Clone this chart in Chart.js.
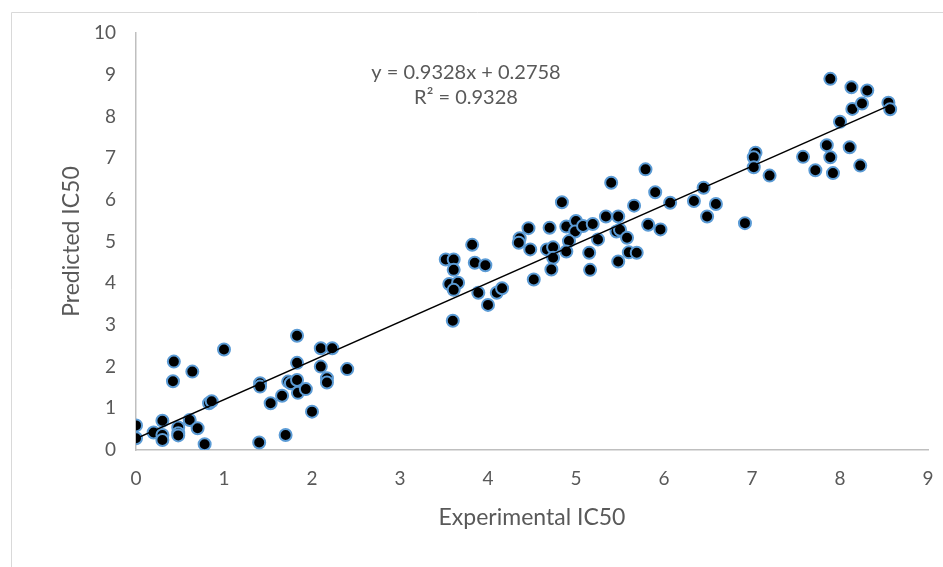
<!DOCTYPE html>
<html>
<head>
<meta charset="utf-8">
<script src="https://cdn.jsdelivr.net/npm/chart.js@4.4.1/dist/chart.umd.min.js"></script>
<style>
  html, body { margin: 0; padding: 0; background: #fff; overflow: hidden; }
  #wrap { width: 943px; height: 567px; position: relative; }
  canvas { display: block; }
</style>
</head>
<body>
<div id="wrap"><canvas id="myChart"></canvas></div>
<script>
// experimental vs predicted IC50
const expX = [
  0.00, 0.00, 0.20, 0.30, 0.30, 0.30, 0.48, 0.48, 0.48, 0.61, 0.70, 0.78,
  0.43, 0.42, 0.64, 1.00, 0.83, 0.86, 1.41, 1.41, 1.40, 1.53, 1.66, 1.70,
  1.83, 1.83, 1.73, 1.76, 1.83, 1.84, 1.93, 2.00, 2.10, 2.23, 2.10, 2.17,
  2.17, 2.40,
  3.52, 3.61, 3.61, 3.56, 3.66, 3.61, 3.60, 3.82, 3.85, 3.97, 3.89, 4.00,
  4.10, 4.16, 4.36, 4.35, 4.46, 4.48, 4.52, 4.70, 4.67, 4.74, 4.74, 4.72,
  4.84, 4.89, 5.00, 4.99, 4.92, 4.89, 5.08, 5.19, 5.15, 5.16, 5.25, 5.34,
  5.40, 5.48, 5.46, 5.50, 5.58, 5.60, 5.48, 5.69, 5.66, 5.79, 5.90, 5.82,
  5.96, 6.07, 6.34,
  6.45, 6.59, 6.49, 6.92, 7.04, 7.02, 7.02, 7.20, 7.58, 7.72, 7.85, 7.89,
  7.92, 7.89, 8.00, 8.13, 8.14, 8.25, 8.31, 8.11, 8.23, 8.55, 8.57
];
const predY = [
  0.59, 0.28, 0.42, 0.70, 0.36, 0.24, 0.54, 0.40, 0.35, 0.72, 0.52, 0.14,
  2.12, 1.65, 1.88, 2.41, 1.12, 1.17, 1.60, 1.52, 0.18, 1.12, 1.30, 0.36,
  2.74, 2.09, 1.64, 1.60, 1.68, 1.37, 1.46, 0.92, 2.44, 2.44, 2.00, 1.72,
  1.62, 1.94,
  4.57, 4.57, 4.32, 3.98, 4.01, 3.84, 3.10, 4.92, 4.49, 4.43, 3.77, 3.48,
  3.77, 3.88, 5.08, 4.97, 5.32, 4.81, 4.09, 5.33, 4.81, 4.86, 4.61, 4.33,
  5.94, 5.36, 5.49, 5.24, 5.01, 4.76, 5.37, 5.42, 4.73, 4.32, 5.05, 5.60,
  6.41, 5.60, 5.24, 5.28, 5.09, 4.74, 4.52, 4.73, 5.86, 6.73, 6.18, 5.40,
  5.29, 5.93, 5.97,
  6.29, 5.90, 5.60, 5.44, 7.13, 7.02, 6.78, 6.58, 7.03, 6.71, 7.31, 7.02,
  6.64, 8.90, 7.87, 8.70, 8.18, 8.31, 8.62, 7.26, 6.82, 8.33, 8.17
];
const xTicks = [0, 1, 2, 3, 4, 5, 6, 7, 8, 9];
const yTicks = [0, 1, 2, 3, 4, 5, 6, 7, 8, 9, 10];
const slope = 0.9328;
const intercept = 0.2758;
const trendX = [0, 8.57];

const txt = '#595959';
const fnt = 'Lato, "Open Sans", sans-serif';

const points = expX.map((x, i) => ({ x: x, y: predY[i] }));
const trend = trendX.map(x => ({ x: x, y: slope * x + intercept }));

const extras = {
  id: 'extras',
  beforeDraw(chart) {
    const c = chart.ctx;
    c.save();
    c.strokeStyle = '#d9d9d9';
    c.lineWidth = 1;
    c.beginPath();
    c.moveTo(11.5, 567);
    c.lineTo(11.5, 12.5);
    c.lineTo(943, 12.5);
    c.stroke();
    c.restore();
  },
  afterDraw(chart) {
    const c = chart.ctx;
    c.save();
    c.fillStyle = txt;
    c.font = '20px ' + fnt;
    c.textAlign = 'center';
    c.textBaseline = 'middle';
    c.fillText('y = ' + slope + 'x + ' + intercept, 466, 73);
    c.fillText('R² = ' + slope, 466, 98);
    c.restore();
  }
};

new Chart(document.getElementById('myChart'), {
  type: 'scatter',
  data: {
    datasets: [{
      label: 'trend',
      type: 'line',
      data: trend,
      borderColor: '#000',
      borderWidth: 1.5,
      pointRadius: 0,
      fill: false,
      order: 0
    }, {
      label: 'IC50',
      data: points,
      backgroundColor: '#000',
      borderColor: '#5b9bd5',
      borderWidth: 2,
      pointRadius: 6,
      order: 1
    }]
  },
  plugins: [extras],
  options: {
    responsive: true,
    maintainAspectRatio: false,
    animation: false,
    layout: { padding: { left: 0, top: 33, right: 15, bottom: 0 } },
    plugins: { legend: { display: false }, tooltip: { enabled: false } },
    scales: {
      x: {
        type: 'linear',
        min: 0, max: 9,
        afterBuildTicks(s) { s.ticks = xTicks.map(v => ({ value: v })); },
        afterFit(s) { s.height = 117; s.paddingLeft = 0; s.paddingRight = 0; },
        grid: { display: false, drawTicks: false },
        border: { display: true, color: '#bfbfbf', width: 1.5 },
        ticks: { padding: 17, color: txt, font: { family: fnt, size: 19 } },
        title: {
          display: true, text: 'Experimental IC50', color: txt,
          font: { family: fnt, size: 23 }, padding: { top: 0, bottom: 36 }
        }
      },
      y: {
        type: 'linear',
        min: 0, max: 10,
        afterBuildTicks(s) { s.ticks = yTicks.map(v => ({ value: v })); },
        afterFit(s) { s.width = 136; s.paddingTop = 0; s.paddingBottom = 0; },
        grid: { display: false, drawTicks: false },
        border: { display: true, color: '#bfbfbf', width: 1.5 },
        ticks: { padding: 20, color: txt, font: { family: fnt, size: 19 } },
        title: {
          display: true, text: 'Predicted IC50', color: txt,
          font: { family: fnt, size: 23 }, padding: { top: 58, bottom: 0 }
        }
      }
    }
  }
});
</script>
</body>
</html>
